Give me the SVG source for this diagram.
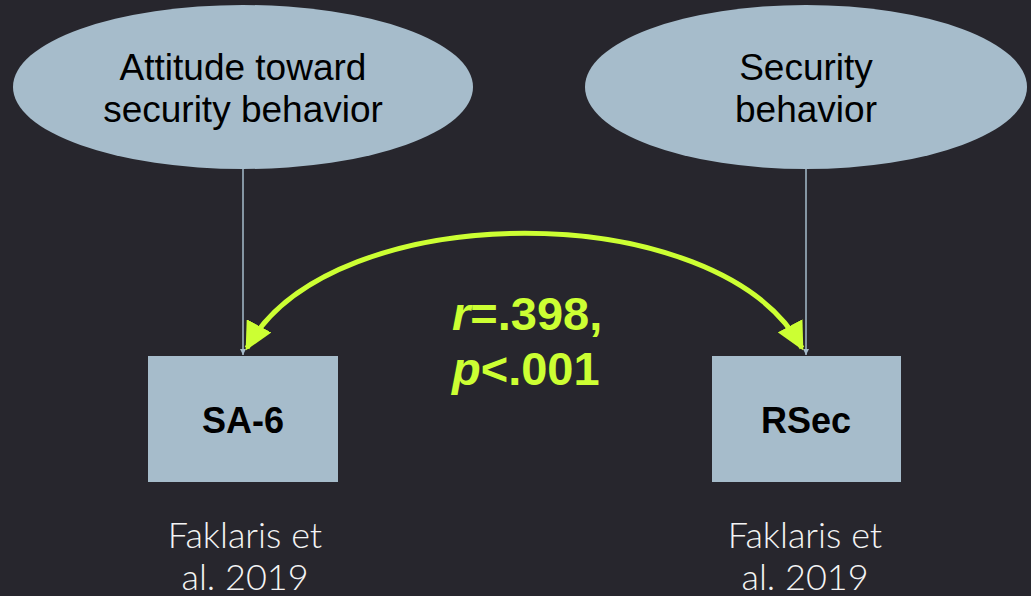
<svg xmlns="http://www.w3.org/2000/svg" width="1031" height="596" viewBox="0 0 1031 596">
<style>
.node{fill:#a6bccb;}
.lbl{font-family:"Liberation Sans",Arial,sans-serif;font-size:37px;fill:#000;text-anchor:middle;}
.box{font-family:"Liberation Sans",Arial,sans-serif;font-size:36px;font-weight:bold;fill:#000;text-anchor:middle;}
.cite{font-family:"Lato","Open Sans",sans-serif;font-weight:300;font-size:36px;fill:#f4f4f4;text-anchor:middle;}
.stat{font-family:"Liberation Sans",Arial,sans-serif;font-weight:bold;font-size:47px;fill:#ccff33;}
.thin{stroke:#a6bccb;stroke-width:1.5;fill:none;}
.corr{stroke:#ccff33;stroke-width:5;fill:none;}
</style>
<defs>
<marker id="sm" viewBox="0 0 10 10" refX="10" refY="5" markerWidth="6" markerHeight="6" markerUnits="userSpaceOnUse" orient="auto"><path d="M0,0 L10,5 L0,10 z" fill="#a6bccb"/></marker>
<marker id="lg" viewBox="0 0 10 10" refX="9" refY="5" markerWidth="28" markerHeight="28" markerUnits="userSpaceOnUse" orient="auto-start-reverse"><path d="M0,0 L10,5 L0,10 z" fill="#ccff33"/></marker>
</defs>
<rect width="1031" height="596" fill="#27262d"/>
<g id="connectors">
<line class="thin" x1="243" y1="169" x2="243" y2="355" marker-end="url(#sm)"/>
<line class="thin" x1="806" y1="169" x2="806" y2="355" marker-end="url(#sm)"/>
<path class="corr" d="M247,348 C330,195 720,195 802,348" marker-start="url(#lg)" marker-end="url(#lg)"/>
</g>
<g id="attitude">
<ellipse class="node" cx="243" cy="87" rx="230" ry="82"/>
<text class="lbl" x="243" y="80">Attitude toward</text>
<text class="lbl" x="243" y="122">security behavior</text>
</g>
<g id="behavior">
<ellipse class="node" cx="806" cy="87" rx="221" ry="82"/>
<text class="lbl" x="806" y="80">Security</text>
<text class="lbl" x="806" y="122">behavior</text>
</g>
<g id="sa6">
<rect class="node" x="148" y="356" width="190" height="126"/>
<text class="box" x="243" y="433">SA-6</text>
</g>
<g id="rsec">
<rect class="node" x="712" y="356" width="189" height="126"/>
<text class="box" x="806" y="433">RSec</text>
</g>
<g id="stats">
<text class="stat" x="452" y="330"><tspan font-style="italic">r</tspan>=.398,</text>
<text class="stat" x="452" y="385"><tspan font-style="italic">p</tspan>&lt;.001</text>
</g>
<g id="cite1">
<text class="cite" x="245" y="548">Faklaris et</text>
<text class="cite" x="245" y="590">al. 2019</text>
</g>
<g id="cite2">
<text class="cite" x="805" y="548">Faklaris et</text>
<text class="cite" x="805" y="590">al. 2019</text>
</g>
</svg>
